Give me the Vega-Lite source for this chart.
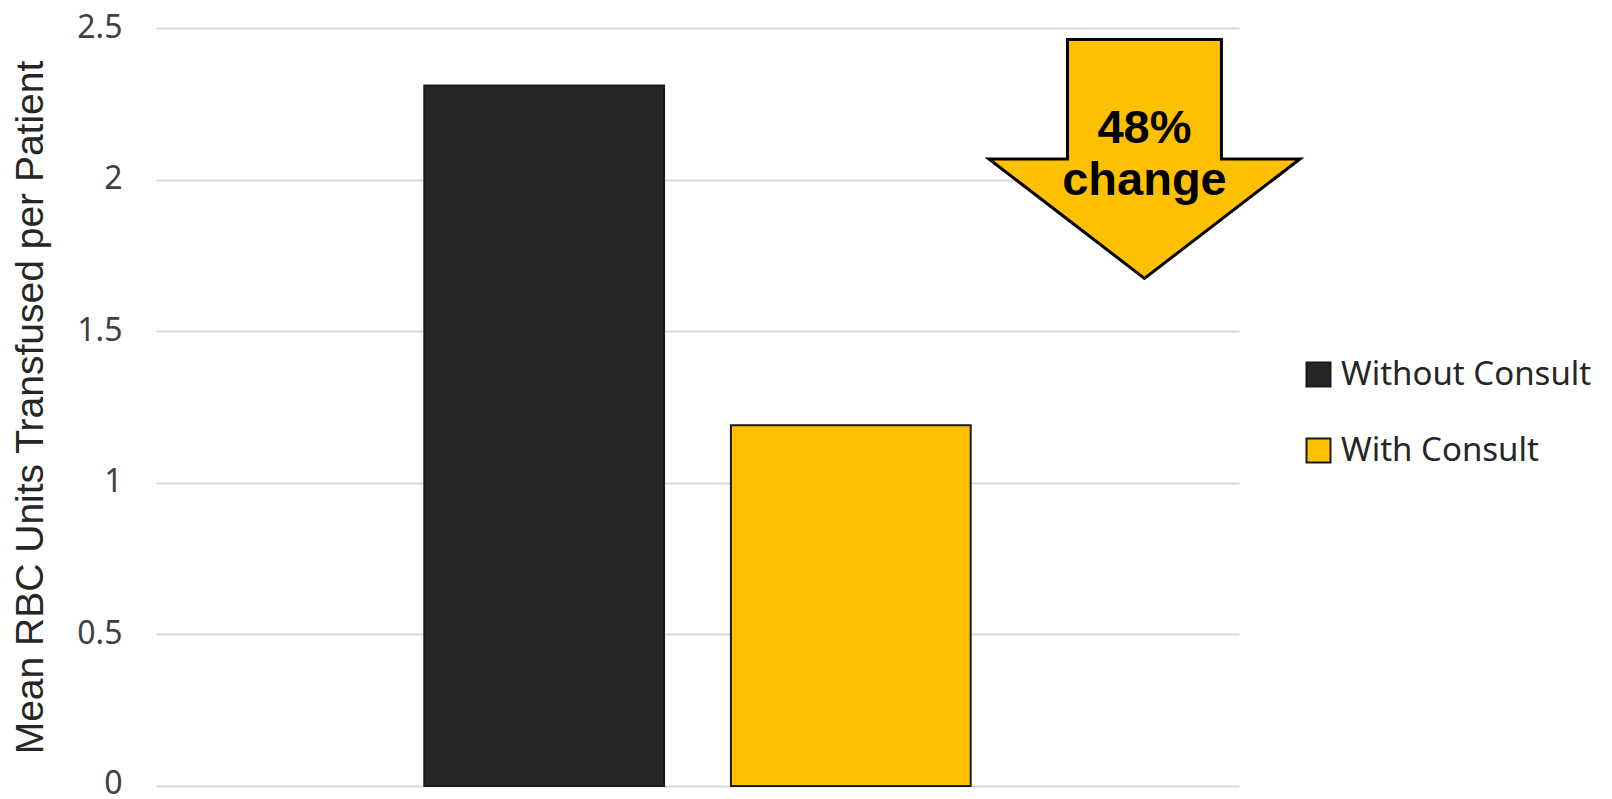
{
  "$schema": "https://vega.github.io/schema/vega-lite/v6.json",
  "autosize": {"type": "none"},
  "padding": {"left": 156, "top": 28, "right": 373, "bottom": 13},
  "width": 1083,
  "height": 758,
  "background": "white",
  "config": {
    "view": {"stroke": null},
    "axis": {"labelFont": "Noto Sans", "titleFont": "Liberation Sans"}
  },
  "resolve": {"scale": {"x": "independent"}},
  "encoding": {
    "y": {
      "field": "value",
      "type": "quantitative",
      "scale": {"domain": [0, 2.5], "nice": false, "zero": true},
      "axis": {
        "values": [0, 0.5, 1, 1.5, 2, 2.5],
        "format": "~g",
        "title": "Mean RBC Units Transfused per Patient",
        "titleFontSize": 39,
        "titleFontWeight": "normal",
        "titleColor": "#262626",
        "titlePadding": 26,
        "labelFontSize": 32,
        "labelColor": "#404040",
        "labelPadding": 34,
        "labelOffset": {"condition": {"test": "datum.value == 0", "value": -3}, "value": -1},
        "labelFlush": false,
        "domain": false,
        "ticks": false,
        "grid": true,
        "gridColor": "#d9d9d9",
        "gridWidth": 2
      }
    }
  },
  "layer": [
    {
      "data": {
        "values": [
          {"series": "Without Consult", "value": 2.31},
          {"series": "With Consult", "value": 1.19}
        ]
      },
      "mark": {"type": "bar", "stroke": "#1a1a1a", "strokeWidth": 2},
      "encoding": {
        "x": {
          "field": "series",
          "type": "nominal",
          "sort": ["Without Consult", "With Consult"],
          "scale": {"paddingInner": 0.218, "paddingOuter": 0.875},
          "axis": null
        },
        "color": {
          "field": "series",
          "type": "nominal",
          "scale": {"domain": ["Without Consult", "With Consult"], "range": ["#262626", "#FFC000"]},
          "legend": {
            "title": null,
            "orient": "none",
            "legendX": 1146,
            "legendY": 330,
            "symbolType": "square",
            "symbolSize": 576,
            "symbolStrokeColor": "#1a1a1a",
            "symbolStrokeWidth": 2,
            "symbolOpacity": 1,
            "labelFont": "Noto Sans",
            "labelFontSize": 33,
            "labelColor": "#262626",
            "labelOffset": 6,
            "labelLimit": 0,
            "rowPadding": 42
          }
        }
      }
    },
    {
      "data": {"values": [{"pos": 0.9127, "value": 2.068}]},
      "mark": {
        "type": "point",
        "shape": "M -0.495 -0.768 L 0.495 -0.768 L 0.495 0 L 1 0 L 0 0.768 L -1 0 L -0.495 0 Z",
        "size": 96721,
        "filled": true,
        "fill": "#FFC000",
        "stroke": "#000000",
        "strokeWidth": 3,
        "opacity": 1
      },
      "encoding": {
        "x": {"field": "pos", "type": "quantitative", "scale": {"domain": [0, 1]}, "axis": null}
      }
    },
    {
      "data": {
        "values": [
          {"label": "48%", "pos": 0.9127, "value": 2.167},
          {"label": "change", "pos": 0.9127, "value": 1.997}
        ]
      },
      "mark": {
        "type": "text",
        "font": "Liberation Sans",
        "fontWeight": "bold",
        "fontSize": 47,
        "align": "center",
        "baseline": "middle",
        "color": "#000000"
      },
      "encoding": {
        "x": {"field": "pos", "type": "quantitative", "scale": {"domain": [0, 1]}, "axis": null},
        "text": {"field": "label", "type": "nominal"}
      }
    }
  ]
}
